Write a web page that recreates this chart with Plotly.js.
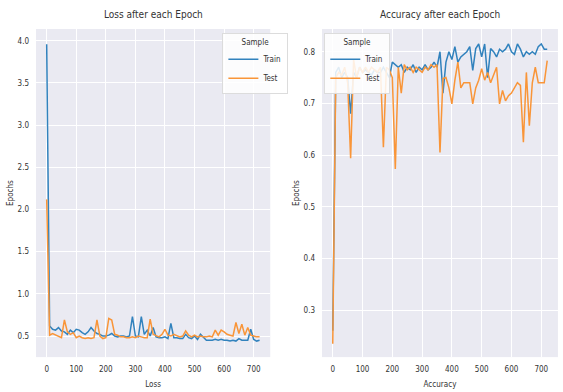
<!DOCTYPE html>
<html><head><meta charset="utf-8">
<script src="https://cdn.plot.ly/plotly-3.0.1.min.js"></script>
<style>html,body{margin:0;padding:0;background:#fff;}#chart{width:563px;height:392px;}</style>
</head><body><div id="chart"></div>
<script>
const epochs = [];
for (let e = 0; e <= 720; e += 10) epochs.push(e);

const lossTrain = [3.96,0.62,0.58,0.57,0.60,0.56,0.55,0.52,0.57,0.54,
0.58,0.57,0.54,0.52,0.55,0.60,0.56,0.53,0.52,0.50,
0.50,0.51,0.53,0.50,0.49,0.50,0.50,0.49,0.50,0.73,
0.50,0.49,0.73,0.52,0.57,0.50,0.60,0.49,0.48,0.48,
0.49,0.47,0.65,0.48,0.48,0.47,0.47,0.52,0.48,0.47,
0.50,0.46,0.52,0.48,0.45,0.45,0.45,0.46,0.45,0.46,
0.45,0.45,0.44,0.45,0.44,0.47,0.45,0.45,0.45,0.58,
0.46,0.44,0.45];
const lossTest = [2.12,0.51,0.53,0.51,0.49,0.48,0.69,0.55,0.52,0.54,
0.48,0.50,0.48,0.47,0.48,0.47,0.48,0.69,0.50,0.47,
0.48,0.71,0.69,0.52,0.51,0.49,0.49,0.48,0.48,0.49,
0.48,0.50,0.49,0.48,0.48,0.70,0.52,0.50,0.49,0.52,
0.58,0.51,0.50,0.52,0.50,0.49,0.50,0.56,0.51,0.49,
0.51,0.49,0.50,0.49,0.49,0.50,0.49,0.57,0.51,0.57,
0.55,0.52,0.51,0.50,0.66,0.53,0.64,0.51,0.60,0.51,
0.50,0.49,0.49];
const accTrain = [0.26,0.76,0.77,0.75,0.76,0.75,0.68,0.76,0.75,0.77,
0.76,0.765,0.76,0.755,0.765,0.76,0.76,0.77,0.76,0.75,
0.78,0.775,0.77,0.775,0.76,0.77,0.765,0.775,0.76,0.77,
0.765,0.775,0.765,0.77,0.78,0.77,0.80,0.72,0.78,0.80,
0.785,0.81,0.78,0.79,0.795,0.80,0.81,0.764,0.806,0.815,
0.79,0.815,0.75,0.806,0.80,0.79,0.805,0.80,0.805,0.815,
0.80,0.795,0.815,0.805,0.79,0.80,0.795,0.80,0.795,0.81,
0.815,0.805,0.805];
const accTest = [0.235,0.75,0.76,0.755,0.77,0.74,0.594,0.785,0.75,0.77,
0.76,0.77,0.76,0.77,0.765,0.76,0.77,0.615,0.77,0.765,
0.75,0.573,0.77,0.72,0.775,0.765,0.77,0.76,0.77,0.765,
0.76,0.77,0.765,0.775,0.77,0.775,0.605,0.748,0.75,0.73,
0.699,0.745,0.78,0.73,0.74,0.74,0.74,0.699,0.73,0.745,
0.767,0.745,0.76,0.74,0.755,0.77,0.699,0.725,0.705,0.715,
0.72,0.73,0.74,0.735,0.625,0.76,0.657,0.74,0.77,0.74,
0.74,0.74,0.783];

const seriesNames = ["Train","Test"];
const colors = ["#3182bd","#f99538"];
const FONT = "DejaVu Sans Condensed, Liberation Sans, Arial, sans-serif";
const TXT = "#333333";

const traces = [
 {x:epochs,y:lossTrain,name:seriesNames[0],mode:"lines",line:{color:colors[0],width:1.5},xaxis:"x",yaxis:"y",legend:"legend"},
 {x:epochs,y:lossTest,name:seriesNames[1],mode:"lines",line:{color:colors[1],width:1.5},xaxis:"x",yaxis:"y",legend:"legend"},
 {x:epochs,y:accTrain,name:seriesNames[0],mode:"lines",line:{color:colors[0],width:1.5},xaxis:"x2",yaxis:"y2",legend:"legend2"},
 {x:epochs,y:accTest,name:seriesNames[1],mode:"lines",line:{color:colors[1],width:1.5},xaxis:"x2",yaxis:"y2",legend:"legend2"}
];

function xax(domain, title, anchor){
 return {domain:domain, anchor:anchor, range:[-36,756], tickvals:[0,100,200,300,400,500,600,700],
  showgrid:true, gridcolor:"#ffffff", gridwidth:1, zeroline:false, showline:false, ticks:"",
  tickfont:{family:FONT,size:8,color:TXT}, ticklabelstandoff:6,
  title:{text:title, font:{family:FONT,size:8,color:TXT}, standoff:8}};
}
function yax(domain, range, tickvals, ticktext, anchor){
 return {domain:domain, anchor:anchor, range:range, tickvals:tickvals, ticktext:ticktext,
  showgrid:true, gridcolor:"#ffffff", gridwidth:1, zeroline:false, showline:false, ticks:"",
  tickfont:{family:FONT,size:8,color:TXT}, ticklabelstandoff:6,
  title:{text:"Epochs", font:{family:FONT,size:8,color:TXT}, standoff:2}};
}
const legendStyle = (x)=>({x:x, y:0.915, xanchor:"left", yanchor:"top", bgcolor:"rgba(255,255,255,0.85)",
  bordercolor:"#dcdcdc", borderwidth:1, font:{family:FONT,size:8,color:TXT},
  title:{text:"Sample", side:"top center", font:{family:FONT,size:8,color:TXT}}, itemwidth:30, tracegroupgap:0});

const layout = {
 width:563, height:392, margin:{l:0,r:0,t:0,b:0},
 paper_bgcolor:"#ffffff", plot_bgcolor:"#eaeaf2", showlegend:true,
 xaxis: xax([0.064,0.480], "Loss", "y"),
 yaxis: yax([0.089,0.926], [0.25,4.14], [0.5,1,1.5,2,2.5,3,3.5,4], ["0.5","1.0","1.5","2.0","2.5","3.0","3.5","4.0"], "x"),
 xaxis2: xax([0.572,0.991], "Accuracy", "y2"),
 yaxis2: yax([0.089,0.926], [0.209,0.844], [0.3,0.4,0.5,0.6,0.7,0.8], ["0.3","0.4","0.5","0.6","0.7","0.8"], "x2"),
 legend: legendStyle(0.395),
 legend2: legendStyle(0.576),
 annotations:[
  {text:"Loss after each Epoch", xref:"paper", yref:"paper", x:0.272, y:0.945, xanchor:"center", yanchor:"bottom", showarrow:false, font:{family:FONT,size:10,color:TXT}},
  {text:"Accuracy after each Epoch", xref:"paper", yref:"paper", x:0.781, y:0.945, xanchor:"center", yanchor:"bottom", showarrow:false, font:{family:FONT,size:10,color:TXT}}
 ]
};
Plotly.newPlot("chart", traces, layout, {displayModeBar:false, staticPlot:true});
</script></body></html>
